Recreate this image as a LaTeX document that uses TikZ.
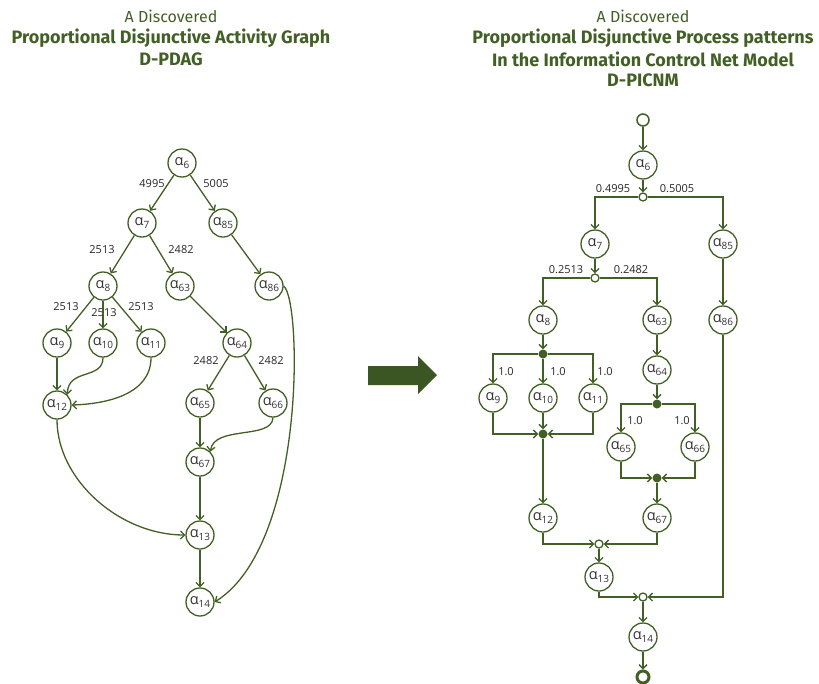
\documentclass[tikz,border=0pt]{standalone}
\usepackage{fontspec}
\setmainfont{Open Sans}
\newfontfamily\titlefont{Fira Sans}
\usetikzlibrary{arrows.meta}
\definecolor{leaf}{RGB}{66,96,38}
\newcommand{\act}[1]{α\raisebox{-0.45ex}{\fontsize{10}{10}\selectfont #1}}

\begin{document}
\begin{tikzpicture}[x=1pt,y=-1pt, >={Straight Barb[length=4pt,width=8pt]},
	cnode/.style={circle,draw=leaf,line width=1.3pt,minimum size=28pt,inner sep=0pt,text=black!80,font=\fontsize{14.5}{14}\selectfont},
	wlabel/.style={inner sep=0pt,text=black!85,font=\fontsize{11}{13}\selectfont},
	xorgate/.style={circle,draw=leaf,fill=white,line width=1.3pt,minimum size=8pt,inner sep=0pt},
	andgate/.style={circle,fill=leaf,minimum size=9pt,inner sep=0pt},
	ttl/.style={text=leaf,inner sep=0pt,font=\titlefont\fontsize{16}{17}\selectfont},
	ttlb/.style={text=leaf,inner sep=0pt,font=\titlefont\bfseries\fontsize{18}{19}\selectfont},
	flow/.style={draw=leaf,line width=1.3pt,->}]
	\useasboundingbox (0,0) rectangle (819,683);
	% titles
	\node[ttl] (lt1) at (171,16) {A Discovered};
	\node[ttlb] (lt2) at (171,38) {Proportional Disjunctive Activity Graph};
	\node[ttlb] (lt3) at (171,59) {D-PDAG};
	\node[ttl] (rt1) at (643,16) {A Discovered};
	\node[ttlb] (rt2) at (643,38) {Proportional Disjunctive Process patterns};
	\node[ttlb] (rt3) at (643,59) {In the Information Control Net Model};
	\node[ttlb] (rt4) at (643,80) {D-PICNM};
	% left graph
	\node[cnode] (l6) at (182,163) {\act{6}};
	\node[cnode] (l7) at (142,223) {\act{7}};
	\node[cnode] (l85) at (223,223) {\act{85}};
	\node[cnode] (l8) at (103,286) {\act{8}};
	\node[cnode] (l63) at (180,286) {\act{63}};
	\node[cnode] (l86) at (269,286) {\act{86}};
	\node[cnode] (l9) at (57,343) {\act{9}};
	\node[cnode] (l10) at (103,343) {\act{10}};
	\node[cnode] (l11) at (151,343) {\act{11}};
	\node[cnode] (l64) at (237,343) {\act{64}};
	\node[cnode] (l12) at (57,405) {\act{12}};
	\node[cnode] (l65) at (200,403) {\act{65}};
	\node[cnode] (l66) at (273,403) {\act{66}};
	\node[cnode] (l67) at (200,462) {\act{67}};
	\node[cnode] (l13) at (200,535) {\act{13}};
	\node[cnode] (l14) at (200,602) {\act{14}};
	\node[wlabel] (lw1) at (152,184) {4995};
	\node[wlabel] (lw2) at (216,184) {5005};
	\node[wlabel] (lw3) at (102,250) {2513};
	\node[wlabel] (lw4) at (181,250) {2482};
	\node[wlabel] (lw5) at (66,307) {2513};
	\node[wlabel] (lw6) at (104,313) {2513};
	\node[wlabel] (lw7) at (141,307) {2513};
	\node[wlabel] (lw8) at (206,361) {2482};
	\node[wlabel] (lw9) at (271,361) {2482};
	\draw[flow] (l6) -- (l7);
	\draw[flow] (l6) -- (l85);
	\draw[flow] (l7) -- (l8);
	\draw[flow] (l7) -- (l63);
	\draw[flow] (l85) -- (l86);
	\draw[flow] (l8) -- (l9);
	\draw[flow] (l8) -- (l10);
	\draw[flow] (l8) -- (l11);
	\draw[flow] (l63) -- (l64);
	\draw[flow] (l64) -- (l65);
	\draw[flow] (l64) -- (l66);
	\draw[flow] (l9) -- (l12);
	\draw[flow] (l10.south) .. controls (103,380) and (68,368) .. (l12.north east);
	\draw[flow] (l11.south) .. controls (151,395) and (105,404) .. (l12.east);
	\draw[flow] (l12.south) .. controls (57,480) and (120,535) .. (l13.west);
	\draw[flow] (l65) -- (l67);
	\draw[flow] (l66.south) .. controls (272,440) and (214,425) .. (l67.north east);
	\draw[flow] (l67) -- (l13);
	\draw[flow] (l13) -- (l14);
	\draw[flow] (l86.east) .. controls (302,300) and (306,545) .. (l14.east);
	% big arrow
	\fill[leaf!90!black] (368,366) -- (418,366) -- (418,356) -- (437,375) -- (418,394) -- (418,385) -- (368,385) -- cycle;
	% right graph
	\node[circle,draw=leaf,line width=1.5pt,minimum size=12pt,inner sep=0pt] (rs) at (643,120) {};
	\node[cnode] (r6) at (643,165) {\act{6}};
	\node[xorgate] (rx1) at (643,197) {};
	\node[cnode] (r7) at (595,244) {\act{7}};
	\node[cnode] (r85) at (723,244) {\act{85}};
	\node[xorgate] (rx2) at (595,278) {};
	\node[cnode] (r8) at (543,320) {\act{8}};
	\node[cnode] (r63) at (657,320) {\act{63}};
	\node[cnode] (r86) at (723,320) {\act{86}};
	\node[andgate] (ra1) at (543,354) {};
	\node[cnode] (r64) at (657,370) {\act{64}};
	\node[cnode] (r9) at (493,398) {\act{9}};
	\node[cnode] (r10) at (543,398) {\act{10}};
	\node[cnode] (r11) at (593,398) {\act{11}};
	\node[andgate] (ra3) at (657,404) {};
	\node[andgate] (ra2) at (543,434) {};
	\node[cnode] (r65) at (621,447) {\act{65}};
	\node[cnode] (r66) at (695,447) {\act{66}};
	\node[andgate] (ra4) at (657,478) {};
	\node[cnode] (r12) at (543,518) {\act{12}};
	\node[cnode] (r67) at (657,518) {\act{67}};
	\node[xorgate] (rx3) at (599,544) {};
	\node[cnode] (r13) at (599,577) {\act{13}};
	\node[xorgate] (rx4) at (643,597) {};
	\node[cnode] (r14) at (643,637) {\act{14}};
	\node[circle,draw=leaf,line width=3pt,minimum size=12pt,inner sep=0pt] (re) at (643,677) {};
	\node[wlabel] (rw1) at (613,189) {0.4995};
	\node[wlabel] (rw2) at (677,189) {0.5005};
	\node[wlabel] (rw3) at (566,270) {0.2513};
	\node[wlabel] (rw4) at (631,270) {0.2482};
	\node[wlabel] (rw5) at (506,372) {1.0};
	\node[wlabel] (rw6) at (558,372) {1.0};
	\node[wlabel] (rw7) at (605,372) {1.0};
	\node[wlabel] (rw8) at (635,421) {1.0};
	\node[wlabel] (rw9) at (682,421) {1.0};
	\draw[flow] (rs) -- (r6);
	\draw[flow] (r6) -- (rx1);
	\draw[flow] (rx1) -| (r7);
	\draw[flow] (rx1) -| (r85);
	\draw[flow] (r85) -- (r86);
	\draw[flow] (r7) -- (rx2);
	\draw[flow] (rx2) -| (r8);
	\draw[flow] (rx2) -| (r63);
	\draw[flow] (r8) -- (ra1);
	\draw[flow] (ra1) -| (r9);
	\draw[flow] (ra1) -- (r10);
	\draw[flow] (ra1) -| (r11);
	\draw[flow] (r9) |- (ra2);
	\draw[flow] (r10) -- (ra2);
	\draw[flow] (r11) |- (ra2);
	\draw[flow] (ra2) -- (r12);
	\draw[flow] (r63) -- (r64);
	\draw[flow] (r64) -- (ra3);
	\draw[flow] (ra3) -| (r65);
	\draw[flow] (ra3) -| (r66);
	\draw[flow] (r65) |- (ra4);
	\draw[flow] (r66) |- (ra4);
	\draw[flow] (ra4) -- (r67);
	\draw[flow] (r12) |- (rx3);
	\draw[flow] (r67) |- (rx3);
	\draw[flow] (rx3) -- (r13);
	\draw[flow] (r13) |- (rx4);
	\draw[flow] (r86) |- (rx4);
	\draw[flow] (rx4) -- (r14);
	\draw[flow] (r14) -- (re);
\end{tikzpicture}
\end{document}
